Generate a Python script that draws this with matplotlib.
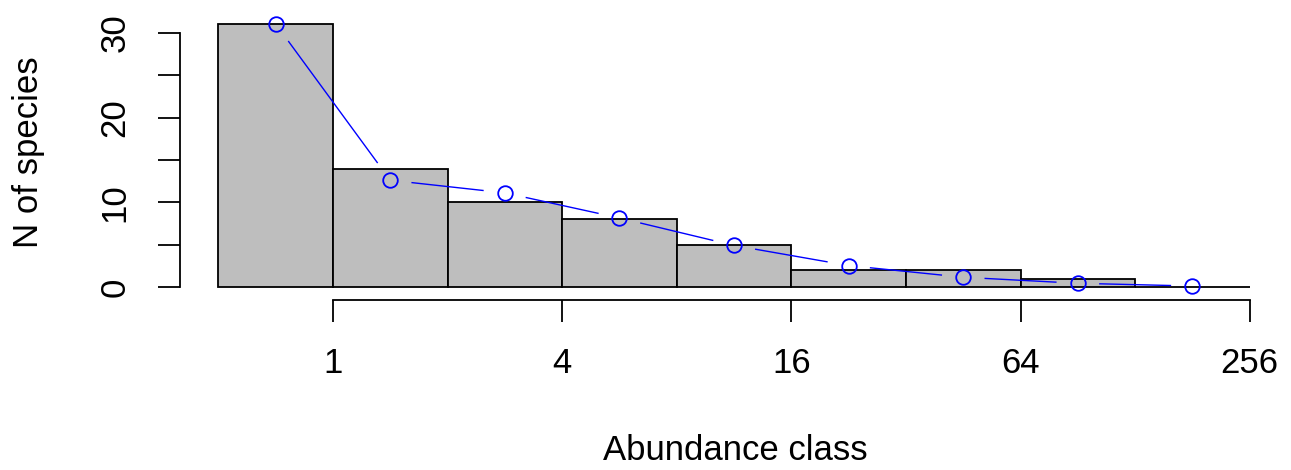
import numpy as np
import matplotlib
matplotlib.use("Agg")
import matplotlib.pyplot as plt

# ---- data ----
octave_edges = [-1, 0, 1, 2, 3, 4, 5, 6, 7, 8]
species_counts = [31, 14, 10, 8, 5, 2, 2, 1, 0]
fitted_values = [31.06, 12.62, 11.13, 8.17, 4.93, 2.56, 1.18, 0.47, 0.15]
x_tick_octaves = [0, 2, 4, 6, 8]
x_tick_labels = ["1", "4", "16", "64", "256"]
y_ticks = [0, 5, 10, 15, 20, 25, 30]
y_tick_labels = ["0", "", "10", "", "20", "", "30"]

plt.rcParams['font.family'] = ['Liberation Sans', 'DejaVu Sans']

W, H = 1291, 470
fig = plt.figure(figsize=(W / 100, H / 100), dpi=100)
left_px, right_px, bottom_px, top_px = 179.5, 1291, 299.5, 15
ax = fig.add_axes([left_px / W, 1 - bottom_px / H,
                   (right_px - left_px) / W, (bottom_px - top_px) / H])
ax.set_xlim(-1.339, 8.36)
ax.set_ylim(-1.44, 32.1)

# bars
lefts = np.array(octave_edges[:-1])
widths = np.diff(octave_edges)
ax.bar(lefts, species_counts, width=widths, align='edge',
       color='#BEBEBE', edgecolor='black', linewidth=1.3, zorder=2)

# fitted line type "b": points with gapped segments
mids = (np.array(octave_edges[:-1]) + np.array(octave_edges[1:])) / 2
fig.canvas.draw()
pts = ax.transData.transform(np.column_stack([mids, fitted_values]))
gap = 22.0
inv = ax.transData.inverted()
for i in range(len(pts) - 1):
    p0, p1 = pts[i], pts[i + 1]
    d = p1 - p0
    L = np.hypot(*d)
    if L <= 2 * gap:
        continue
    u = d / L
    a = inv.transform(p0 + u * gap)
    b = inv.transform(p1 - u * gap)
    ax.plot([a[0], b[0]], [a[1], b[1]], color='#0000FF', lw=1.0, zorder=3)
ax.plot(mids, fitted_values, linestyle='none', marker='o', markersize=10.5,
        markerfacecolor='none', markeredgecolor='#0000FF', markeredgewidth=1.3,
        zorder=4, clip_on=False)

# axes styling
for s in ['top', 'right']:
    ax.spines[s].set_visible(False)
ax.spines['bottom'].set_bounds(0, 8)
ax.spines['left'].set_bounds(0, 30)
for s in ['bottom', 'left']:
    ax.spines[s].set_linewidth(1.3)

ax.set_xticks(x_tick_octaves)
ax.set_xticklabels(x_tick_labels)
ax.set_yticks(y_ticks)
ax.set_yticklabels(y_tick_labels, rotation=90, va='center')
ax.tick_params(axis='both', direction='out', length=15.5, width=1.3,
               labelsize=25, colors='black')
ax.tick_params(axis='x', pad=19)
ax.tick_params(axis='y', pad=19)

fig.text(735 / W, 1 - 451 / H, "Abundance class", ha='center', va='center',
         fontsize=25)
fig.text(29 / W, 1 - 152 / H, "N of species", ha='center', va='center',
         rotation=90, fontsize=25)

fig.savefig("out.png", dpi=100)
